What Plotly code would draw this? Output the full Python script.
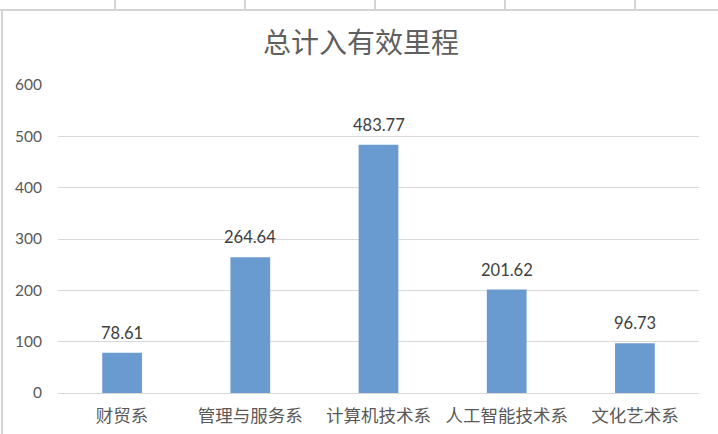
import plotly.graph_objects as go

# Data
categories = ["财贸系", "管理与服务系", "计算机技术系", "人工智能技术系", "文化艺术系"]
mileage = [78.61, 264.64, 483.77, 201.62, 96.73]
y_ticks = [0, 100, 200, 300, 400, 500, 600]

W, H = 718, 434
L, R, T, B = 58, 19, 85, 41
FONT = "Lato, Noto Sans CJK SC, sans-serif"
GRID = "#d9d9d9"


def px_x(x):
    return (x - L) / (W - L - R)


def px_y(y):
    return (H - B - y) / (H - T - B)


fig = go.Figure(
    go.Bar(
        x=categories,
        y=mileage,
        marker=dict(color="#699BD0", line=dict(width=0)),
        width=0.31,
        hoverinfo="skip",
    )
)

# value labels above each bar
for c, v in zip(categories, mileage):
    fig.add_annotation(
        x=c, y=v, text=f"{v:.2f}", showarrow=False,
        yanchor="bottom", yshift=8,
        font=dict(family=FONT, size=16.5, color="#404040"),
    )

# spreadsheet cell borders behind the chart
shapes = [
    dict(type="line", xref="paper", yref="paper",
         x0=px_x(0), x1=px_x(W), y0=px_y(10), y1=px_y(10),
         line=dict(color="#d4d4d4", width=2)),
    dict(type="line", xref="paper", yref="paper",
         x0=px_x(2), x1=px_x(2), y0=px_y(10), y1=px_y(H),
         line=dict(color="#d4d4d4", width=2)),
]
for cx in [115, 245, 375, 505, 635]:
    shapes.append(dict(type="line", xref="paper", yref="paper",
                       x0=px_x(cx), x1=px_x(cx), y0=px_y(0), y1=px_y(10),
                       line=dict(color="#d4d4d4", width=2)))

fig.update_layout(
    width=W, height=H,
    margin=dict(l=L, r=R, t=T, b=B, autoexpand=False),
    paper_bgcolor="white", plot_bgcolor="white",
    title=dict(text="总计入有效里程", x=361 / W, xref="container", xanchor="center",
               y=1 - 43.5 / H, yref="container", yanchor="middle",
               font=dict(family="Noto Sans CJK SC", size=28, color="#5f5f5f")),
    font=dict(family=FONT, color="#595959"),
    showlegend=False,
    shapes=shapes,
    bargap=0.69,
)
fig.update_xaxes(
    showgrid=False, showline=True, linecolor=GRID, linewidth=1,
    ticks="", tickfont=dict(family="Noto Sans CJK SC", size=17.5, color="#595959"),
    ticklabelstandoff=7, automargin=False,
)
fig.update_yaxes(
    range=[0, 600], tickvals=y_ticks, showgrid=True, gridcolor=GRID, gridwidth=1,
    zeroline=False, showline=False, ticks="",
    tickfont=dict(family=FONT, size=15.5, color="#595959"),
    ticklabelstandoff=15, automargin=False,
)

fig.write_html("out.html")
